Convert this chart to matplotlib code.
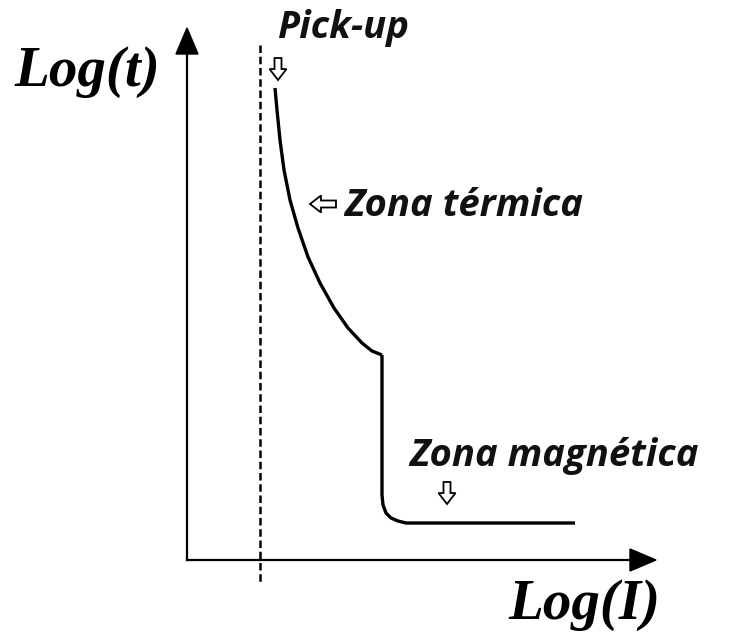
import numpy as np
import matplotlib.pyplot as plt
from matplotlib.patches import FancyArrow

# curve points, drawn in a pixel-like frame (x right, y down)
thermal_x = [275, 277, 280, 284, 290, 298, 308, 320, 334, 348, 362, 372, 382]
thermal_y = [88, 110, 140, 170, 200, 228, 257, 283, 308, 328, 343, 351, 355]
magnetic_x = [382, 382, 383, 386, 391, 398, 406, 575]
magnetic_y = [355, 495, 505, 513, 518, 521, 523, 523]

pickup_x = 260
labels = ["Pick-up", "Zona térmica", "Zona magnética"]
label_pos = [(277, 28), (344, 206), (409, 456)]
hollow_arrows = [(278, 58, 0, 22), (336, 204, -26, 0), (447, 482, 0, 22)]

fig = plt.figure(figsize=(7.33, 6.4), dpi=100)
ax = fig.add_axes([0, 0, 1, 1])
ax.set_xlim(0, 733)
ax.set_ylim(640, 0)
ax.axis("off")

# axes with arrow heads
ax.plot([187, 187], [560, 50], color="black", lw=1.6)
ax.add_patch(FancyArrow(187, 60, 0, -32, width=0, head_width=22, head_length=26,
                        length_includes_head=True, color="black"))
ax.plot([187, 630], [560, 560], color="black", lw=1.6)
ax.add_patch(FancyArrow(620, 560, 36, 0, width=0, head_width=22, head_length=26,
                        length_includes_head=True, color="black"))

# pick-up dashed line
ax.plot([pickup_x, pickup_x], [45, 582], color="black", lw=1.8,
        dashes=(3, 1.5))

# trip curve
ax.plot(thermal_x, thermal_y, color="black", lw=2.4, solid_capstyle="butt")
ax.plot(magnetic_x, magnetic_y, color="black", lw=2.4, solid_capstyle="butt",
        solid_joinstyle="round")

# hollow pointer arrows
for x, y, dx, dy in hollow_arrows:
    ax.add_patch(FancyArrow(x, y, dx, dy, width=7, head_width=17, head_length=11,
                            length_includes_head=True, fc="white", ec="black", lw=1.3))

for text, (x, y) in zip(labels, label_pos):
    ax.text(x, y, text, fontsize=27.5, fontweight="bold", fontstyle="italic",
            family="Open Sans", ha="left", va="center", color="#111111")

ax.text(14, 72, "Log(t)", fontsize=41, fontweight="bold", fontstyle="italic",
        family="Liberation Serif", ha="left", va="center")
ax.text(508, 605, "Log(I)", fontsize=41, fontweight="bold", fontstyle="italic",
        family="Liberation Serif", ha="left", va="center")

fig.savefig("out.png", dpi=100)
